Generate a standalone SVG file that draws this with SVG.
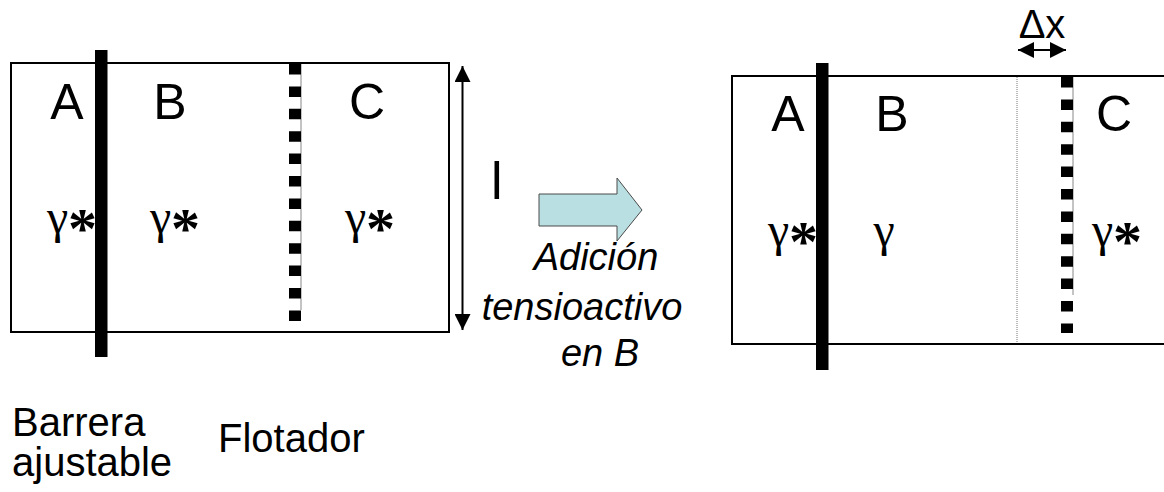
<svg xmlns="http://www.w3.org/2000/svg" width="1164" height="492" viewBox="0 0 1164 492">
<style>
.frame{fill:#fff;stroke:#000;stroke-width:2}
.bar{fill:#000}
.float{stroke:#000;stroke-width:12;stroke-dasharray:10.5 11.9}
.edge{stroke:#888;stroke-width:1}
.lab{font-family:"Liberation Sans",Arial,sans-serif;font-size:50px;fill:#000;text-anchor:middle}
.gam{font-family:"Liberation Serif","Times New Roman",serif;font-size:48px;fill:#000;text-anchor:middle}
.ast{font-size:58px;font-weight:bold}
.cap{font-family:"Liberation Sans",Arial,sans-serif;font-size:40px;fill:#000}
.it{font-family:"Liberation Sans",Arial,sans-serif;font-size:38px;font-style:italic;fill:#000;text-anchor:middle}
.line{stroke:#000;stroke-width:2;fill:none}
</style>
<defs>
<marker id="ah" viewBox="0 0 16 16" refX="16" refY="8" markerWidth="16" markerHeight="16" markerUnits="userSpaceOnUse" orient="auto-start-reverse">
<path d="M0,0 L16,8 L0,16 Z" fill="#000"/>
</marker>
</defs>

<g id="trough-before">
<rect class="frame" x="11" y="63" width="438" height="269"/>
<line class="edge" x1="301" y1="64" x2="301" y2="310"/>
<line class="float" x1="295" y1="64" x2="295" y2="321"/>
<rect class="bar" x="95" y="50" width="12.5" height="307"/>
<text class="lab" x="67" y="119">A</text>
<text class="lab" x="170" y="119">B</text>
<text class="lab" x="367" y="119">C</text>
<text class="gam" x="72" y="233">γ<tspan class="ast" dy="15">*</tspan></text>
<text class="gam" x="175" y="233">γ<tspan class="ast" dy="15">*</tspan></text>
<text class="gam" x="370" y="233">γ<tspan class="ast" dy="15">*</tspan></text>
</g>

<g id="trough-after">
<rect class="frame" x="732" y="76" width="440" height="268"/>
<line x1="1017" y1="77" x2="1017" y2="343" stroke="#777" stroke-width="1" stroke-dasharray="1 1"/>
<line class="edge" x1="1073" y1="77" x2="1073" y2="295"/>
<line class="float" x1="1067" y1="77" x2="1067" y2="333"/>
<rect class="bar" x="816" y="63" width="12.5" height="307"/>
<text class="lab" x="788" y="131">A</text>
<text class="lab" x="892" y="131">B</text>
<text class="lab" x="1114" y="131">C</text>
<text class="gam" x="793" y="246">γ<tspan class="ast" dy="15">*</tspan></text>
<text class="gam" x="884" y="246">γ</text>
<text class="gam" x="1117" y="246">γ<tspan class="ast" dy="15">*</tspan></text>
</g>

<g id="connectors">
<line class="line" x1="462.5" y1="66" x2="462.5" y2="330" marker-start="url(#ah)" marker-end="url(#ah)"/>
<line class="line" x1="1018" y1="50" x2="1066" y2="50" marker-start="url(#ah)" marker-end="url(#ah)"/>
</g>

<g id="step-arrow">
<polygon points="539,194 617,194 617,178 642,210 617,241 617,226 539,226" fill="#B9DFE2" stroke="#4a4a4a" stroke-width="1"/>
<text class="it" x="596" y="270">Adición</text>
<text class="it" x="582" y="320">tensioactivo</text>
<text class="it" x="600" y="366">en B</text>
</g>

<g id="labels">
<text class="cap" x="491" y="199" style="font-size:52px">l</text>
<text class="cap" x="1042" y="38" style="font-size:40px;text-anchor:middle">Δx</text>
<text class="cap" x="12" y="436">Barrera</text>
<text class="cap" x="12" y="476">ajustable</text>
<text class="cap" x="218" y="452">Flotador</text>
</g>
</svg>
